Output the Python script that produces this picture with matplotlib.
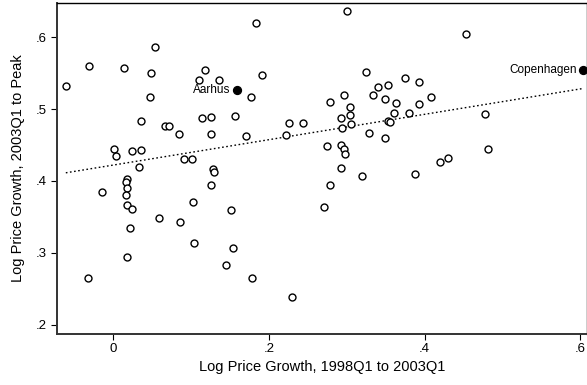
import numpy as np
import matplotlib
matplotlib.use("Agg")
import matplotlib.pyplot as plt
from matplotlib.ticker import FuncFormatter

plt.rcParams["font.family"] = ["Liberation Sans", "DejaVu Sans"]

# growth 1998Q1-2003Q1 (x) and 2003Q1-peak (y), open markers
growth_pre = [
    -0.061, -0.031, 0.014, 0.053, 0.048, 0.047, 0.183, 0.118, 0.110, 0.136,
    0.191, 0.177, 0.035, 0.066, 0.071, 0.084, 0.114, 0.125, 0.156, 0.126,
    0.171, 0.226, 0.244, 0.222, 0.0005, 0.004, 0.024, 0.035, 0.033, 0.091,
    0.101, 0.128, 0.129, 0.018, 0.016, -0.015, 0.018, 0.016, 0.018, 0.024,
    0.059, 0.086, 0.102, 0.125, 0.151, 0.022, 0.104, 0.154, 0.018, 0.145,
    -0.033, 0.178, 0.230, 0.300, 0.453, 0.324, 0.340, 0.353, 0.375, 0.393,
    0.296, 0.279, 0.334, 0.349, 0.408, 0.363, 0.393, 0.304, 0.304, 0.292,
    0.361, 0.380, 0.353, 0.356, 0.305, 0.294, 0.477, 0.328, 0.349, 0.274,
    0.292, 0.296, 0.298, 0.481, 0.420, 0.430, 0.293, 0.319, 0.387, 0.279,
    0.271,
]
growth_post = [
    0.532, 0.560, 0.557, 0.586, 0.550, 0.517, 0.620, 0.554, 0.541, 0.541,
    0.548, 0.517, 0.483, 0.476, 0.477, 0.465, 0.487, 0.489, 0.490, 0.465,
    0.463, 0.480, 0.480, 0.464, 0.444, 0.434, 0.441, 0.443, 0.420, 0.431,
    0.431, 0.416, 0.412, 0.403, 0.399, 0.384, 0.390, 0.381, 0.366, 0.361,
    0.348, 0.343, 0.370, 0.394, 0.359, 0.334, 0.313, 0.306, 0.294, 0.283,
    0.265, 0.265, 0.239, 0.636, 0.604, 0.551, 0.531, 0.534, 0.543, 0.537,
    0.519, 0.510, 0.520, 0.514, 0.517, 0.509, 0.507, 0.503, 0.492, 0.487,
    0.495, 0.495, 0.484, 0.482, 0.479, 0.474, 0.493, 0.467, 0.460, 0.449,
    0.450, 0.444, 0.437, 0.445, 0.427, 0.432, 0.418, 0.407, 0.410, 0.394,
    0.364,
]

# highlighted cities (filled markers)
city_names = ["Aarhus", "Copenhagen"]
city_pre = [0.159, 0.604]
city_post = [0.527, 0.555]


def strip_zero(v, pos):
    s = f"{v:.1f}"
    if s == "0.0":
        return "0"
    if s.startswith("0."):
        s = s[1:]
    return s


def main() -> None:
    fig = plt.figure(figsize=(5.87, 3.85), dpi=100)
    ax = fig.add_axes([0.0966, 0.1333, 0.9034, 0.8597])

    ax.scatter(growth_pre, growth_post, s=25, facecolors="white",
               edgecolors="black", linewidths=1.0, zorder=3)
    ax.scatter(city_pre, city_post, s=32, color="black", zorder=4,
               clip_on=False)
    for name, cx, cy in zip(city_names, city_pre, city_post):
        ax.annotate(name, (cx, cy), xytext=(-4.5, 0), textcoords="offset points",
                    ha="right", va="center", fontsize=8.5)

    # OLS fit over all cities
    all_x = np.array(growth_pre + city_pre)
    all_y = np.array(growth_post + city_post)
    slope, intercept = np.polyfit(all_x, all_y, 1)
    xs = np.array([all_x.min(), all_x.max()])
    ax.plot(xs, intercept + slope * xs, color="black", lw=1.0,
            linestyle=(0, (1.2, 1.8)), zorder=2)

    ax.set_xlim(-0.0727, 0.6085)
    ax.set_ylim(0.1874, 0.648)
    ax.set_xticks([0, 0.2, 0.4, 0.6])
    ax.set_yticks([0.2, 0.3, 0.4, 0.5, 0.6])
    ax.xaxis.set_major_formatter(FuncFormatter(strip_zero))
    ax.yaxis.set_major_formatter(FuncFormatter(strip_zero))
    ax.tick_params(direction="out", length=4, width=0.8, labelsize=9.5,
                   colors="black", pad=3)

    for side in ["left", "bottom"]:
        ax.spines[side].set_linewidth(1.4)
        ax.spines[side].set_color("#333333")
    for side in ["top", "right"]:
        ax.spines[side].set_linewidth(1.0)

    ax.set_xlabel("Log Price Growth, 1998Q1 to 2003Q1", fontsize=10.5, labelpad=3)
    ax.set_ylabel("Log Price Growth, 2003Q1 to Peak", fontsize=10.5, labelpad=8)

    fig.savefig("out.png", dpi=100)
    plt.close(fig)


if __name__ == "__main__":
    main()
